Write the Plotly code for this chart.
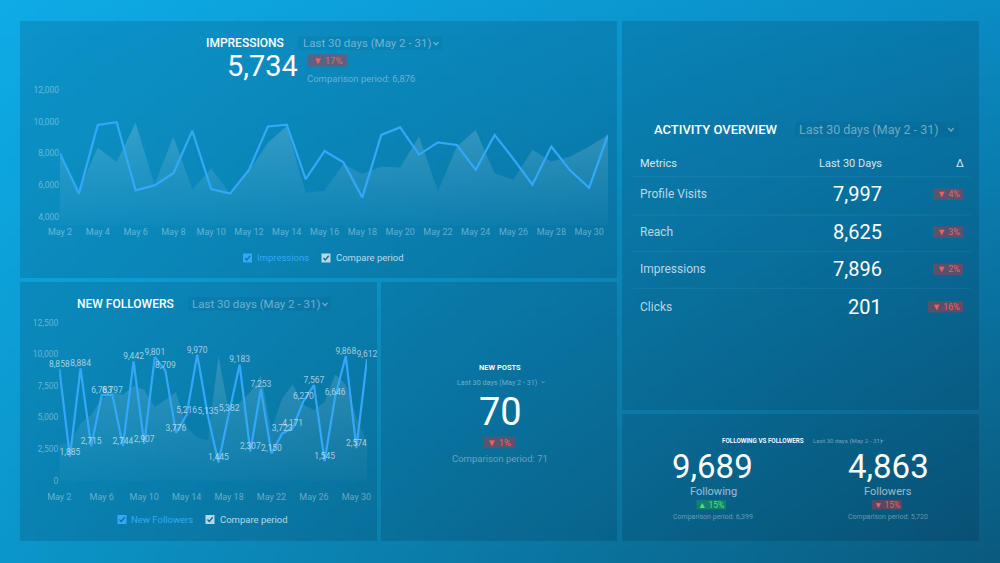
import base64, struct, zlib
import plotly.graph_objects as go

W, H = 1000, 563

# ---------------- data ----------------
dates = ["May 2", "May 3", "May 4", "May 5", "May 6", "May 7", "May 8", "May 9", "May 10",
         "May 11", "May 12", "May 13", "May 14", "May 15", "May 16", "May 17", "May 18",
         "May 19", "May 20", "May 21", "May 22", "May 23", "May 24", "May 25", "May 26",
         "May 27", "May 28", "May 29", "May 30", "May 31"]

impressions = [8000, 5470, 9800, 9970, 5680, 5990, 6760, 9420, 5760, 5470, 6970, 9700, 9820, 6390, 8150,
               7440, 5230, 9170, 9640, 7930, 8700, 8540, 6970, 9170, 7650, 6030, 8440, 6920, 5840, 9170]
impressions_compare = [7900, 5700, 8360, 7470, 9940, 6040, 9050, 5730, 7050, 5500, 6900, 8670, 9730, 5520, 5650,
                       7330, 6700, 7180, 7120, 9070, 5600, 8440, 9480, 6760, 6340, 8230, 7490, 7810, 8440, 9170]

followers = [8858, 1885, 8884, 2715, 6783, 6797, 2744, 9442, 2907, 9801, 8709, 3776, 5216, 9970, 5135,
             1445, 5382, 9183, 2307, 7253, 2150, 3723, 4171, 6270, 7567, 1545, 6646, 9868, 2574, 9612]
followers_compare = [2800, 3000, 4500, 5200, 6500, 7000, 6800, 7500, 7200, 5800, 6400, 7000, 4200, 3400, 3200,
                     9800, 5400, 6200, 7000, 8300, 4000, 6500, 7600, 6000, 5600, 6200, 8400, 7600, 5000, 3000]

imp_xticks = ["May 2", "May 4", "May 6", "May 8", "May 10", "May 12", "May 14", "May 16",
              "May 18", "May 20", "May 22", "May 24", "May 26", "May 28", "May 30"]
imp_yticks = [4000, 6000, 8000, 10000, 12000]
fol_xticks = ["May 2", "May 6", "May 10", "May 14", "May 18", "May 22", "May 26", "May 30"]
fol_yticks = [0, 2500, 5000, 7500, 10000, 12500]

activity_metrics = ["Profile Visits", "Reach", "Impressions", "Clicks"]
activity_values = ["7,997", "8,625", "7,896", "201"]
activity_deltas = ["▼ 4%", "▼ 3%", "▼ 2%", "▼ 16%"]

# ---------------- helpers ----------------
FONT = "Roboto"
def X(px): return px / W
def Y(py): return 1 - py / H

shapes, annotations = [], []

def rect(x0, y0, x1, y1, fill, line=None, layer="below"):
    shapes.append(dict(type="rect", xref="paper", yref="paper", x0=X(x0), x1=X(x1), y0=Y(y1), y1=Y(y0),
                       fillcolor=fill, line=dict(width=0) if line is None else line, layer=layer))

def path(points, color, width=1.2, layer="above"):
    d = "M " + " L ".join(f"{X(a):.5f},{Y(b):.5f}" for a, b in points)
    shapes.append(dict(type="path", xref="paper", yref="paper", path=d,
                       line=dict(color=color, width=width), layer=layer))

def text(x, y, s, size, color, xanchor="center", weight=400):
    annotations.append(dict(x=X(x), y=Y(y), xref="paper", yref="paper", text=s, showarrow=False,
                            xanchor=xanchor, yanchor="middle", borderpad=0,
                            font=dict(family=FONT, size=size, color=color, weight=weight)))

WHITE = "#ffffff"
MUTED = "rgba(255,255,255,0.42)"
FAINT = "rgba(255,255,255,0.38)"
RED_BG = "rgba(185,55,65,0.45)"
RED_TX = "#f2605a"
GRN_BG = "rgba(30,165,80,0.45)"
GRN_TX = "#4fe07d"
LINE_BLUE = "rgb(52,168,248)"

def badge(x0, x1, yc, h, s, size, bg, fg):
    rect(x0, yc - h / 2, x1, yc + h / 2, bg)
    text((x0 + x1) / 2, yc, s, size, fg)

def dropdown(x0, x1, yc, h, s, size, chev_x, box=True):
    if box:
        rect(x0, yc - h / 2, x1, yc + h / 2, "rgba(0,30,70,0.06)")
    text(x0 + 3, yc, s, size, MUTED, xanchor="left")
    cx = chev_x
    path([(cx - size * 0.22, yc - size * 0.1), (cx, yc + size * 0.13), (cx + size * 0.22, yc - size * 0.1)],
         MUTED, width=max(0.8, size * 0.11))

def checkbox(x0, yc, size, fill, tick):
    rect(x0, yc - size / 2, x0 + size, yc + size / 2, fill, layer="above")
    path([(x0 + size * 0.22, yc), (x0 + size * 0.42, yc + size * 0.22), (x0 + size * 0.8, yc - size * 0.25)],
         tick, width=1.2)

# ---------------- background gradient image ----------------
def gradient_png(w, h, tl, tr, bl, br):
    rows = []
    for j in range(h):
        v = j / (h - 1)
        row = bytearray([0])
        for i in range(w):
            u = i / (w - 1)
            for c in range(3):
                top = tl[c] * (1 - u) + tr[c] * u
                bot = bl[c] * (1 - u) + br[c] * u
                row.append(int(round(top * (1 - v) + bot * v)))
        rows.append(bytes(row))
    raw = b"".join(rows)
    def chunk(tag, data):
        return struct.pack(">I", len(data)) + tag + data + struct.pack(">I", zlib.crc32(tag + data) & 0xffffffff)
    png = (b"\x89PNG\r\n\x1a\n" + chunk(b"IHDR", struct.pack(">IIBBBBB", w, h, 8, 2, 0, 0, 0))
           + chunk(b"IDAT", zlib.compress(raw)) + chunk(b"IEND", b""))
    return "data:image/png;base64," + base64.b64encode(png).decode()

bg_uri = gradient_png(100, 56, (14, 171, 230), (10, 140, 196), (11, 150, 202), (10, 90, 126))

# ---------------- panels ----------------
PANEL = "rgba(0,12,35,0.14)"
for (x0, y0, x1, y1) in [(20, 21, 617, 278), (622, 21, 979, 410), (20, 282, 377, 541),
                         (381, 282, 617, 541), (622, 414, 979, 541)]:
    rect(x0, y0, x1, y1, PANEL)

# ---------------- traces ----------------
fig = go.Figure()
fig.add_trace(go.Scatter(x=dates, y=impressions_compare, mode="lines", line=dict(width=0),
                         fill="tozeroy",
                         fillgradient=dict(type="vertical", start=3500, stop=10000,
                                           colorscale=[[0, "rgba(255,255,255,0.02)"], [1, "rgba(255,255,255,0.17)"]]),
                         xaxis="x", yaxis="y", hoverinfo="skip", showlegend=False))
fig.add_trace(go.Scatter(x=dates, y=impressions, mode="lines", line=dict(color=LINE_BLUE, width=2.2),
                         xaxis="x", yaxis="y", showlegend=False))
fig.add_trace(go.Scatter(x=dates, y=followers_compare, mode="lines", line=dict(width=0),
                         fill="tozeroy",
                         fillgradient=dict(type="vertical", start=0, stop=10000,
                                           colorscale=[[0, "rgba(255,255,255,0.02)"], [1, "rgba(255,255,255,0.16)"]]),
                         xaxis="x2", yaxis="y2", hoverinfo="skip", showlegend=False))
fig.add_trace(go.Scatter(x=dates, y=followers, mode="lines+text", line=dict(color=LINE_BLUE, width=2.2),
                         text=[f"{v:,}" for v in followers], textposition="top center",
                         textfont=dict(family=FONT, size=8.5, color="rgba(255,255,255,0.62)"),
                         cliponaxis=False, xaxis="x2", yaxis="y2", showlegend=False))

axis_common = dict(showgrid=False, zeroline=False, showline=False, ticks="", automargin=False)
tickfont_x = dict(family=FONT, size=9, color=FAINT)
tickfont_y = dict(family=FONT, size=8.5, color=FAINT)

fig.update_layout(
    width=W, height=H, autosize=False,
    margin=dict(l=0, r=0, t=0, b=0, pad=0, autoexpand=False),
    paper_bgcolor="#0b86b8", plot_bgcolor="rgba(0,0,0,0)",
    font=dict(family=FONT, color=WHITE),
    showlegend=False,
    xaxis=dict(axis_common, type="category", domain=[X(60), X(608)], range=[0, 29],
               tickmode="array", tickvals=imp_xticks, ticktext=imp_xticks, tickfont=tickfont_x, anchor="y"),
    yaxis=dict(axis_common, domain=[Y(224.9), Y(90)], range=[3500, 12000], tickmode="array",
               tickvals=imp_yticks, tickformat=",d", tickfont=tickfont_y, anchor="x"),
    xaxis2=dict(axis_common, type="category", domain=[X(59.3), X(367)], range=[0, 29],
                tickmode="array", tickvals=fol_xticks, ticktext=fol_xticks, tickfont=tickfont_x, anchor="y2"),
    yaxis2=dict(axis_common, domain=[Y(489.5), Y(322.7)], range=[-700, 12500], tickmode="array",
                tickvals=fol_yticks, tickformat=",d", tickfont=tickfont_y, anchor="x2"),
    images=[dict(source=bg_uri, xref="paper", yref="paper", x=0, y=1, sizex=1, sizey=1,
                 sizing="stretch", xanchor="left", yanchor="top", layer="below")],
)

# ---------------- Impressions panel texts ----------------
text(245, 42.7, "IMPRESSIONS", 12, WHITE, weight=500)
dropdown(298.6, 442, 43.3, 13.5, "Last 30 days (May 2 - 31)", 11.5, 436)
text(262, 66.5, "5,734", 29, WHITE)
badge(307.5, 347, 60.5, 12.4, "▼ 17%", 9.5, RED_BG, RED_TX)
text(306, 78.3, "Comparison period: 6,876", 9.5, FAINT, xanchor="left")
checkbox(243, 258, 9, LINE_BLUE, "rgba(10,110,170,0.9)")
text(256, 258, "Impressions", 9.5, LINE_BLUE, xanchor="left")
checkbox(321.5, 258, 9, "rgba(255,255,255,0.7)", "#0a6a98")
text(334.5, 258, "Compare period", 9.5, "rgba(255,255,255,0.72)", xanchor="left")

# ---------------- New followers panel texts ----------------
text(125, 304, "NEW FOLLOWERS", 12, WHITE, weight=500)
dropdown(188, 331, 304, 14, "Last 30 days (May 2 - 31)", 11.5, 325)
checkbox(117.5, 519.5, 9, LINE_BLUE, "rgba(10,100,160,0.9)")
text(130, 519.5, "New Followers", 9.5, LINE_BLUE, xanchor="left")
checkbox(205.5, 519.5, 9, "rgba(255,255,255,0.7)", "#0a6690")
text(219, 519.5, "Compare period", 9.5, "rgba(255,255,255,0.72)", xanchor="left")

# ---------------- New posts panel ----------------
text(500, 367.5, "NEW POSTS", 7.5, WHITE, weight=600)
dropdown(453, 547, 382, 9, "Last 30 days (May 2 - 31)", 7.2, 543, box=False)
text(500, 412, "70", 38, WHITE)
badge(483, 515, 442.5, 11.5, "▼ 1%", 9.5, RED_BG, RED_TX)
text(500, 458.5, "Comparison period: 71", 9.5, FAINT)

# ---------------- Activity overview panel ----------------
text(715.5, 129.3, "ACTIVITY OVERVIEW", 13, WHITE, weight=500)
dropdown(795, 959, 129.3, 15, "Last 30 days (May 2 - 31)", 12.5, 951)
text(639, 164, "Metrics", 11, "rgba(255,255,255,0.85)", xanchor="left")
text(882.5, 164, "Last 30 Days", 11, "rgba(255,255,255,0.85)", xanchor="right")
text(960, 164, "Δ", 11, "rgba(255,255,255,0.85)")
for ysep in [176.7, 215, 251.7, 288.3]:
    rect(633, ysep - 0.5, 970, ysep + 0.5, "rgba(255,255,255,0.07)")
row_y = [194.3, 232, 269.3, 306.7]
for name, val, dlt, yy in zip(activity_metrics, activity_values, activity_deltas, row_y):
    text(639, yy, name, 12, "rgba(255,255,255,0.72)", xanchor="left")
    text(883, yy, val, 20, WHITE, xanchor="right")
    w = 30 if len(dlt) <= 4 else 35
    badge(963 - w, 963, yy, 11.5, dlt, 9, RED_BG, RED_TX)

# ---------------- Following vs followers panel ----------------
text(762.5, 440.7, "FOLLOWING VS FOLLOWERS", 6.3, WHITE, weight=600)
dropdown(809, 886, 440.7, 8, "Last 30 days (May 2 - 31)", 6.2, 882, box=False)
text(712.5, 466, "9,689", 33, WHITE)
text(713, 491, "Following", 11, "rgba(255,255,255,0.6)")
badge(696.5, 726, 504.7, 9.5, "▲ 15%", 8.5, GRN_BG, GRN_TX)
text(713, 516.8, "Comparison period: 6,399", 7, FAINT)
text(888, 466, "4,863", 33, WHITE)
text(888, 491, "Followers", 11, "rgba(255,255,255,0.6)")
badge(872, 902, 504.7, 9.5, "▼ 15%", 8.5, RED_BG, RED_TX)
text(888, 516.8, "Comparison period: 5,720", 7, FAINT)

fig.update_layout(shapes=shapes, annotations=annotations)

fig.write_html("out.html", config={"displayModeBar": False, "responsive": False},
               post_script="document.body.style.margin='0';document.body.style.overflow='hidden';"
                           "document.documentElement.style.overflow='hidden';")
